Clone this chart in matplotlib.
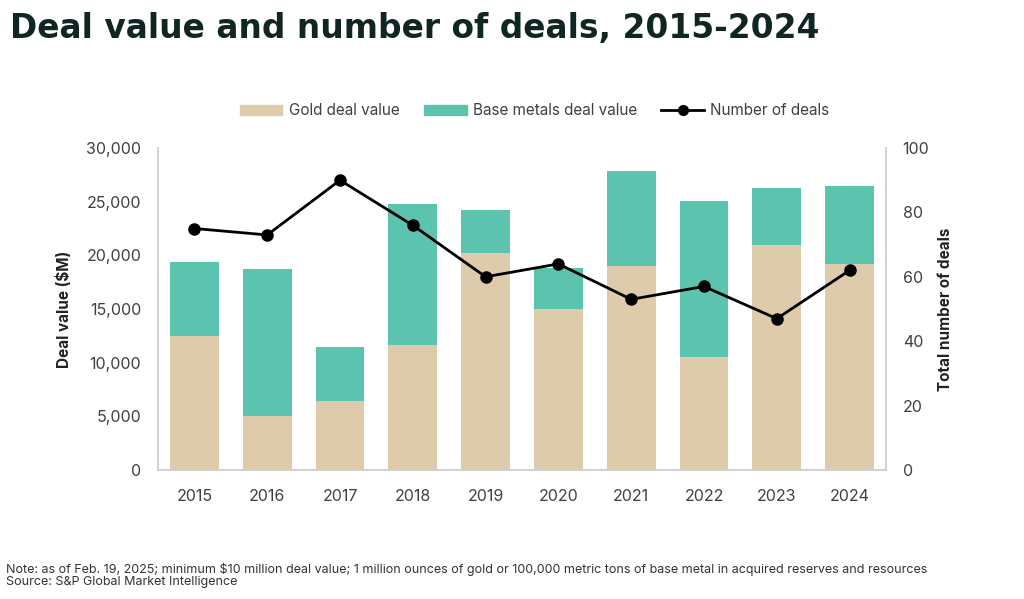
import numpy as np
import matplotlib.pyplot as plt
from matplotlib.lines import Line2D
from matplotlib.patches import Patch

years = ['2015', '2016', '2017', '2018', '2019', '2020', '2021', '2022', '2023', '2024']
gold_value = [12500, 5000, 6400, 11650, 20200, 15000, 19000, 10500, 21000, 19200]
total_value = [19400, 18700, 11500, 24800, 24200, 18850, 27900, 25100, 26250, 26500]
base_value = [t - g for t, g in zip(total_value, gold_value)]
deals = [75, 73, 90, 76, 60, 64, 53, 57, 47, 62]

GOLD = '#DDCBAB'
TEAL = '#5CC3AE'
GRAY = '#404040'
SPINE = '#D0D0D0'

plt.rcParams['font.family'] = ['Inter', 'DejaVu Sans']

fig = plt.figure(figsize=(10.24, 5.99), dpi=100)
ax = fig.add_axes([0.1543, 0.2154, 0.7109, 0.5375])
x = np.arange(len(years))

ax.bar(x, gold_value, width=0.67, color=GOLD, zorder=2)
ax.bar(x, base_value, width=0.67, bottom=gold_value, color=TEAL, zorder=2)
ax.set_xlim(-0.5, len(years) - 0.5)
ax.set_ylim(0, 30000)
ax.set_yticks(range(0, 30001, 5000))
ax.set_yticklabels([f'{v:,}' for v in range(0, 30001, 5000)])
ax.set_xticks(x)
ax.set_xticklabels(years)
ax.tick_params(axis='y', length=0, labelsize=11.5, colors=GRAY, pad=12)
ax.tick_params(axis='x', length=0, labelsize=11.5, colors=GRAY, pad=14)
ax.set_ylabel('Deal value ($M)', fontsize=11, fontweight='bold', color='#222222', labelpad=10)

ax2 = ax.twinx()
ax2.plot(x, deals, color='black', lw=2, marker='o', markersize=8, zorder=3)
ax2.set_ylim(0, 100)
ax2.set_yticks(range(0, 101, 20))
ax2.tick_params(length=0, labelsize=11.5, colors=GRAY, pad=12)
ax2.set_ylabel('Total number of deals', fontsize=11, fontweight='bold', color='#222222', labelpad=6)

for a in (ax, ax2):
    a.spines['top'].set_visible(False)
    for s in ('left', 'right', 'bottom'):
        a.spines[s].set_color(SPINE)
        a.spines[s].set_linewidth(1.2)

handles = [Patch(color=GOLD), Patch(color=TEAL),
           Line2D([0], [0], color='black', lw=2, marker='o', markersize=7)]
labels = ['Gold deal value', 'Base metals deal value', 'Number of deals']
leg = fig.legend(handles, labels, loc='center', bbox_to_anchor=(0.522, 0.815), ncol=3,
                 frameon=False, fontsize=11, handlelength=2.8, handleheight=0.7,
                 columnspacing=1.6, handletextpad=0.4)
for t in leg.get_texts():
    t.set_color(GRAY)

fig.text(0.01, 0.952, 'Deal value and number of deals, 2015-2024', fontsize=23.7,
         fontweight='bold', color='#0F2622', va='center', family=['DejaVu Sans'])

fig.text(0.006, 0.04, 'Note: as of Feb. 19, 2025; minimum $10 million deal value; 1 million ounces of gold '
         'or 100,000 metric tons of base metal in acquired reserves and resources\n'
         'Source: S&P Global Market Intelligence', fontsize=9, color='#333333', va='center',
         linespacing=1.0)

fig.savefig('out.png', dpi=100)
